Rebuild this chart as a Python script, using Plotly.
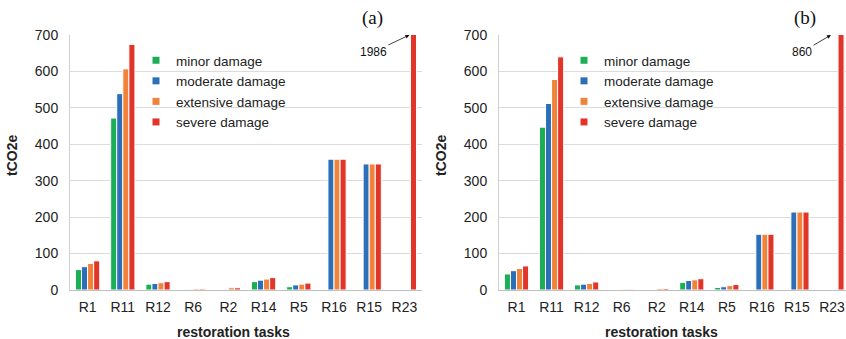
import plotly.graph_objects as go

tasks = ["R1", "R11", "R12", "R6", "R2", "R14", "R5", "R16", "R15", "R23"]
series = ["minor damage", "moderate damage", "extensive damage", "severe damage"]
colors = ["#1aaf54", "#2a6fb8", "#f0823a", "#e2352a"]

# (a)
a_minor = [56, 472, 16, 1, 0, 23, 9, 0, 0, 0]
a_moderate = [64, 539, 18, 1, 0, 27, 14, 359, 346, 0]
a_extensive = [73, 607, 20, 3, 6, 30, 16, 359, 346, 0]
a_severe = [80, 674, 23, 3, 6, 34, 19, 359, 346, 1986]

# (b)
b_minor = [44, 447, 14, 0, 0, 21, 7, 0, 0, 0]
b_moderate = [53, 512, 16, 0, 0, 26, 9, 153, 214, 0]
b_extensive = [59, 578, 18, 2, 4, 28, 12, 153, 214, 0]
b_severe = [66, 640, 22, 2, 4, 31, 15, 153, 214, 860]

a_vals = [a_minor, a_moderate, a_extensive, a_severe]
b_vals = [b_minor, b_moderate, b_extensive, b_severe]

FONT = "Liberation Sans, Arial, sans-serif"
W, H = 846, 339


def px(x):
    return x / W


def py(y):
    return 1 - y / H


fig = go.Figure()
for name, col, ya, yb in zip(series, colors, a_vals, b_vals):
    fig.add_trace(go.Bar(x=tasks, y=ya, name=name, marker=dict(color=col, line=dict(color="white", width=1)),
                         xaxis="x", yaxis="y", showlegend=False))
    fig.add_trace(go.Bar(x=tasks, y=yb, name=name, marker=dict(color=col, line=dict(color="white", width=1)),
                         xaxis="x2", yaxis="y2", showlegend=False))
for name, col in zip(series, colors):
    fig.add_trace(go.Scatter(x=[None], y=[None], mode="markers", name=name,
                             marker=dict(symbol="square", size=7, color=col),
                             xaxis="x", yaxis="y", legend="legend"))
    fig.add_trace(go.Scatter(x=[None], y=[None], mode="markers", name=name,
                             marker=dict(symbol="square", size=7, color=col),
                             xaxis="x2", yaxis="y2", legend="legend2"))

ydom = [py(290), py(35)]
common_x = dict(type="category", categoryorder="array", categoryarray=tasks, automargin=False,
                showline=True, linecolor="#bfbfbf", linewidth=1, ticks="",
                tickfont=dict(family=FONT, size=14, color="#222"), ticklabelstandoff=4,
                showgrid=False, zeroline=False, fixedrange=True)
common_y = dict(range=[0, 700], dtick=100, domain=ydom, automargin=False, showline=True,
                linecolor="#d0d0d0", linewidth=1,
                showgrid=True, gridcolor="#dcdcdc", gridwidth=1, zeroline=False, ticks="",
                tickfont=dict(family=FONT, size=14, color="#222"), ticklabelstandoff=8)

leg_font = dict(family=FONT, size=13.5, color="#222")
fig.update_layout(
    width=W, height=H,
    margin=dict(l=0, r=0, t=0, b=0, autoexpand=False),
    paper_bgcolor="white", plot_bgcolor="white",
    barmode="group", bargap=0.31, bargroupgap=0.0,
    xaxis=dict(domain=[px(70), px(422)], range=[-0.5, 9.5], anchor="y", **common_x),
    yaxis=dict(anchor="x", **common_y),
    xaxis2=dict(domain=[px(499), 1.0], range=[-0.5, 9.4], anchor="y2", **common_x),
    yaxis2=dict(anchor="x2", **common_y),
    legend=dict(x=px(136), y=py(45), xanchor="left", yanchor="top", bgcolor="rgba(0,0,0,0)",
                font=leg_font, itemwidth=30, tracegroupgap=0),
    legend2=dict(x=px(564), y=py(45), xanchor="left", yanchor="top", bgcolor="rgba(0,0,0,0)",
                 font=leg_font, itemwidth=30, tracegroupgap=0),
    showlegend=True,
)

# white legend backgrounds hiding gridlines (between grid and bars)
for x0, x1 in [(150, 307), (580, 736)]:
    fig.add_shape(type="rect", xref="paper", yref="paper", x0=px(x0), x1=px(x1), y0=py(128), y1=py(48),
                  fillcolor="white", line=dict(width=0), layer="between")

ann = []
serif = dict(family="Liberation Serif, Times New Roman, serif", size=19, color="#111")
ann.append(dict(text="(a)", x=px(372), y=py(18), xref="paper", yref="paper", showarrow=False,
                xanchor="center", yanchor="middle", font=serif))
ann.append(dict(text="(b)", x=px(805), y=py(18), xref="paper", yref="paper", showarrow=False,
                xanchor="center", yanchor="middle", font=serif))
for xc in [12, 441]:
    ann.append(dict(text="<b>tCO2e</b>", x=px(xc), y=py(156), xref="paper", yref="paper", showarrow=False,
                    xanchor="center", yanchor="middle", textangle=-90,
                    font=dict(family=FONT, size=14, color="#222")))
for xc in [233, 661]:
    ann.append(dict(text="<b>restoration tasks</b>", x=px(xc), y=py(332), xref="paper", yref="paper",
                    xanchor="center", yanchor="middle", showarrow=False,
                    font=dict(family=FONT, size=14, color="#222")))
ann.append(dict(text=str(a_severe[-1]), x="R23", y=700, xref="x", yref="y", xshift=5,
                ax=-36, ay=17, showarrow=True, arrowhead=2, arrowsize=1, arrowwidth=0.8, arrowcolor="#111",
                font=dict(family=FONT, size=12, color="#111")))
ann.append(dict(text=str(b_severe[-1]), x="R23", y=700, xref="x2", yref="y2", xshift=-1,
                ax=-29, ay=17, showarrow=True, arrowhead=2, arrowsize=1, arrowwidth=0.8, arrowcolor="#111",
                font=dict(family=FONT, size=12, color="#111")))
fig.update_layout(annotations=ann)

fig.write_html("out.html", config={"displayModeBar": False},
               post_script="document.body.style.margin='0';document.body.style.overflow='hidden';")
